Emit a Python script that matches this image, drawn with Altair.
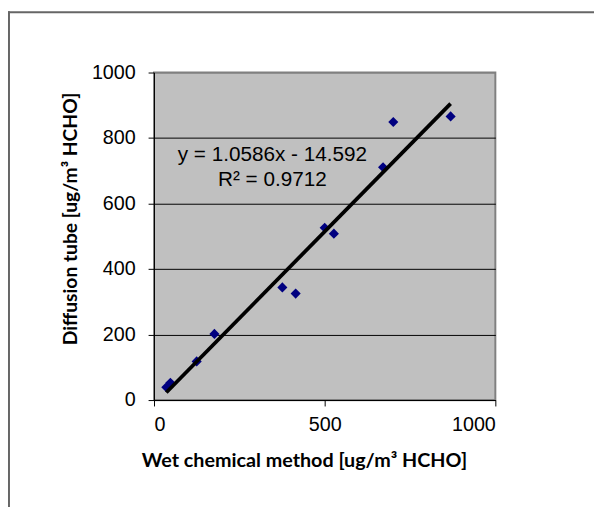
import altair as alt
import pandas as pd

# Data
wet_chemical = [36, 48, 125, 177, 376, 415, 500, 527, 671, 701, 869]
diffusion_tube = [39, 53, 118, 202, 344, 325, 526, 508, 711, 849, 866]

x_ticks = [0, 500, 1000]
y_ticks = [0, 200, 400, 600, 800, 1000]

eq_line1 = "y = 1.0586x - 14.592"
eq_line2 = "R² = 0.9712"

x_title = "Wet chemical method [ug/m³ HCHO]"
y_title = "Diffusion tube [ug/m³ HCHO]"

df = pd.DataFrame({"x": wet_chemical, "y": diffusion_tube})

W, H = 346, 332

xs = alt.Scale(domain=[0, 1000], nice=False)
ys = alt.Scale(domain=[0, 1000], nice=False)

x_axis = alt.Axis(
    values=x_ticks, grid=False, title=x_title, format="d",
    labelFont="Liberation Sans", labelFontSize=20, labelColor="black",
    labelPadding=9, tickSize=6, tickColor="black", domainColor="black",
    titleFont="Lato", titleFontSize=20, titleFontWeight="bold", titleColor="black",
    titleX=152, titleY=67, titleBaseline="alphabetic",
)
y_axis = alt.Axis(
    values=y_ticks, grid=True, title=y_title, format="d",
    gridColor=alt.condition("datum.value == 1000", alt.value("#808080"), alt.value("black")),
    labelFont="Liberation Sans", labelFontSize=20, labelColor="black",
    labelPadding=13, tickSize=6, tickColor="black", domainColor="black",
    titleFont="Lato", titleFontSize=19.5, titleFontWeight="bold", titleColor="black",
    titleX=-79, titleY=148, titleBaseline="alphabetic", titleAngle=270,
)

base = alt.Chart(df)

points = base.mark_point(shape="diamond", filled=True, size=105, color="#000080", opacity=1).encode(
    x=alt.X("x:Q", scale=xs, axis=x_axis),
    y=alt.Y("y:Q", scale=ys, axis=y_axis),
)

trend = base.transform_regression("x", "y").mark_line(color="black", strokeWidth=3.8).encode(
    x=alt.X("x:Q", scale=xs),
    y=alt.Y("y:Q", scale=ys),
)

one = alt.Data(values=[{}])
txt1 = alt.Chart(one).mark_text(font="Liberation Sans", fontSize=21, color="black",
                                align="center", baseline="alphabetic").encode(
    x=alt.value(120), y=alt.value(90), text=alt.value(eq_line1))
txt2 = alt.Chart(one).mark_text(font="Liberation Sans", fontSize=21, color="black",
                                align="center", baseline="alphabetic").encode(
    x=alt.value(120), y=alt.value(115), text=alt.value(eq_line2))

border_left = alt.Chart(one).mark_rule(color="#666666", strokeWidth=2).encode(
    x=alt.value(-147), y=alt.value(-62), y2=alt.value(600))
border_top = alt.Chart(one).mark_rule(color="#666666", strokeWidth=2).encode(
    y=alt.value(-61), x=alt.value(-148), x2=alt.value(600))

chart = alt.layer(points, trend, txt1, txt2, border_left, border_top).properties(
    width=W, height=H,
    autosize=alt.AutoSizeParams(type="none"),
    padding={"left": 148, "top": 62, "right": 100, "bottom": 105},
    background="white",
).configure_view(
    fill="#C0C0C0", stroke="#808080", strokeWidth=2,
)

chart.save("out.html", embed_options={"renderer": "svg", "actions": False})
